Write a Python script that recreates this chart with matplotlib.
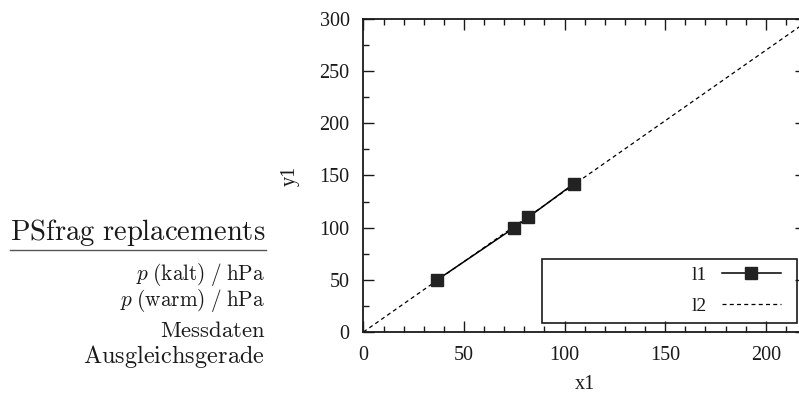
#!/usr/bin/env python3

"""
Calibration plot: measured points (l1) and fitted line through origin (l2),
with the PSfrag replacement table to the left.
"""

import matplotlib
matplotlib.use("Agg")

import matplotlib.pyplot as plt
from matplotlib.lines import Line2D
from matplotlib.patches import Rectangle
from matplotlib.ticker import MultipleLocator

# ------------------------------------------------------------
# Data
# ------------------------------------------------------------

meas_x = [36.7, 75.0, 82.0, 104.5]
meas_y = [50.0, 100.0, 110.0, 142.0]

fit_x = [0.0, 220.0]
fit_y = [0.0, 297.0]

x_ticks = [0, 50, 100, 150, 200]
y_ticks = [0, 50, 100, 150, 200, 250, 300]

series_labels = ["l1", "l2"]

psfrag_header = r"$\mathrm{PSfrag\ replacements}$"
psfrag_lines = [
    r"$p\;\mathrm{(kalt)\;/\;hPa}$",
    r"$p\;\mathrm{(warm)\;/\;hPa}$",
    r"$\mathrm{Messdaten}$",
    r"$\mathrm{Ausgleichsgerade}$",
]
psfrag_sizes = [15.3, 15.3, 16.3, 17.5]
psfrag_baselines = [280, 306, 337, 363]

# ------------------------------------------------------------
# Style
# ------------------------------------------------------------

plt.rcParams["mathtext.fontset"] = "cm"
plt.rcParams["font.family"] = ["Liberation Serif", "DejaVu Serif"]

W, H = 799, 399
INK = "#1a1a1a"

fig = plt.figure(figsize=(W / 100, H / 100), dpi=100)

ax_left, ax_right = 363.4, 806.0
ax_top, ax_bottom = 19.0, 332.0

ax = fig.add_axes([
    ax_left / W,
    (H - ax_bottom) / H,
    (ax_right - ax_left) / W,
    (ax_bottom - ax_top) / H,
])

# ------------------------------------------------------------
# Plot
# ------------------------------------------------------------

ax.plot(
    fit_x, fit_y,
    color="black",
    linewidth=0.9,
    dashes=(3.2, 2.6),
    label=series_labels[1],
    zorder=2,
)

ax.plot(
    meas_x, meas_y,
    color="black",
    linewidth=1.1,
    marker="s",
    markersize=8.5,
    markerfacecolor="#222222",
    markeredgecolor="#222222",
    label=series_labels[0],
    zorder=3,
)

ax.set_xlim(0, 220)
ax.set_ylim(0, 300)

ax.set_xticks(x_ticks)
ax.set_yticks(y_ticks)
ax.xaxis.set_minor_locator(MultipleLocator(10))
ax.yaxis.set_minor_locator(MultipleLocator(25))

ax.tick_params(
    which="both",
    direction="in",
    top=True,
    right=True,
    colors=INK,
    labelsize=14.5,
    labelcolor=INK,
)
ax.tick_params(which="major", length=8, width=1.0, pad=10)
ax.tick_params(which="minor", length=4, width=1.0)

for spine in ax.spines.values():
    spine.set_linewidth(1.3)
    spine.set_color(INK)

ax.set_xlabel("x1", fontsize=14.5, color=INK, labelpad=7.5)
ax.set_ylabel("y1", fontsize=14.5, color=INK, labelpad=14)

# ------------------------------------------------------------
# Legend (gnuplot style: label, then sample, inside a box)
# ------------------------------------------------------------

handles, labels = ax.get_legend_handles_labels()
order = [labels.index(s) for s in series_labels]

leg = ax.legend(
    [handles[i] for i in order],
    [labels[i] for i in order],
    loc="upper right",
    bbox_to_anchor=((781 - ax_left) / (ax_right - ax_left),
                    (ax_bottom - 266) / (ax_bottom - ax_top)),
    frameon=False,
    markerfirst=False,
    numpoints=1,
    handlelength=3.05,
    handletextpad=0.75,
    labelspacing=0.72,
    borderpad=0.0,
    borderaxespad=0.0,
    fontsize=14,
)
for t in leg.get_texts():
    t.set_color(INK)

ax.add_patch(Rectangle(
    ((542 - ax_left) / (ax_right - ax_left), 9 / (ax_bottom - ax_top)),
    (797 - 542) / (ax_right - ax_left),
    (323 - 259) / (ax_bottom - ax_top),
    transform=ax.transAxes,
    fill=False,
    edgecolor=INK,
    linewidth=1.2,
    clip_on=False,
    zorder=4,
))

# ------------------------------------------------------------
# PSfrag replacement table
# ------------------------------------------------------------

table_right = 265 / W

fig.text(
    table_right, (H - 240) / H,
    psfrag_header,
    ha="right", va="baseline",
    fontsize=20.6, color=INK,
)

fig.add_artist(Line2D(
    [10 / W, 266 / W],
    [(H - 250) / H, (H - 250) / H],
    color="#555555",
    linewidth=1.0,
))

for baseline, size, line in zip(psfrag_baselines, psfrag_sizes, psfrag_lines):
    fig.text(
        table_right, (H - baseline) / H,
        line,
        ha="right", va="baseline",
        fontsize=size, color=INK,
    )

fig.savefig("out.png", dpi=100)
